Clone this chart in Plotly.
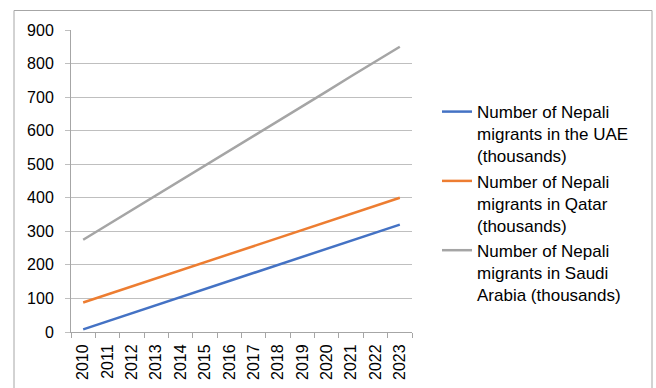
import plotly.graph_objects as go

years = [str(y) for y in range(2010, 2024)]
uae = [8, 32, 56, 80, 104, 128, 152, 176, 200, 224, 248, 272, 296, 320]
qatar = [88, 112, 136, 160, 184, 208, 232, 256, 280, 304, 328, 352, 376, 400]
saudi = [275, 319, 363, 408, 452, 496, 540, 585, 629, 673, 717, 762, 806, 850]
names = [
    "Number of Nepali<br>migrants in the UAE<br>(thousands)",
    "Number of Nepali<br>migrants in Qatar<br>(thousands)",
    "Number of Nepali<br>migrants in Saudi<br>Arabia (thousands)",
]
colors = ["#4472C4", "#ED7D31", "#A5A5A5"]

fig = go.Figure()
for i, (vals, name, col) in enumerate(zip([uae, qatar, saudi], names, colors)):
    fig.add_trace(go.Scatter(x=years, y=vals, mode="lines", name=name,
                             legendgroup=f"g{i}",
                             line=dict(color=col, width=2.5)))

W, H = 656, 388
L, R, T, B = 71, 412, 30, 332
fig.update_layout(
    width=W, height=H,
    margin=dict(l=L, r=W - R, t=T, b=H - B, autoexpand=False),
    paper_bgcolor="white", plot_bgcolor="white",
    font=dict(family="Liberation Sans, Arial, sans-serif", size=16, color="#000000"),
    showlegend=True,
    legend=dict(x=(437 - L) / (R - L), xanchor="left", y=0.427, yanchor="middle",
                valign="top", font=dict(size=17), tracegroupgap=0,
                bgcolor="rgba(0,0,0,0)"),
    xaxis=dict(type="category", range=[-0.5, 13.5], tickangle=-90,
               showline=True, linecolor="#A6A6A6", linewidth=1,
               ticks="outside", ticklen=5, tickcolor="#A6A6A6",
               tickson="boundaries", showgrid=False, zeroline=False,
               automargin=False,
               tickfont=dict(size=16), ticklabelstandoff=5),
    yaxis=dict(range=[0, 900], dtick=100, showline=True, linecolor="#A6A6A6",
               linewidth=1, ticks="outside", ticklen=5, tickcolor="#BFBFBF",
               showgrid=True, gridcolor="#BFBFBF", gridwidth=1, zeroline=False,
               automargin=False,
               tickfont=dict(size=16), ticklabelstandoff=8),
)
pw, ph = R - L, B - T
fig.add_shape(type="rect", xref="paper", yref="paper",
              x0=(14 - L) / pw, x1=(652 - L) / pw,
              y0=(B - 420) / ph, y1=(B - 10.5) / ph,
              line=dict(color="#A6A6A6", width=1), fillcolor="rgba(0,0,0,0)",
              layer="below")
fig.write_html("out.html")
